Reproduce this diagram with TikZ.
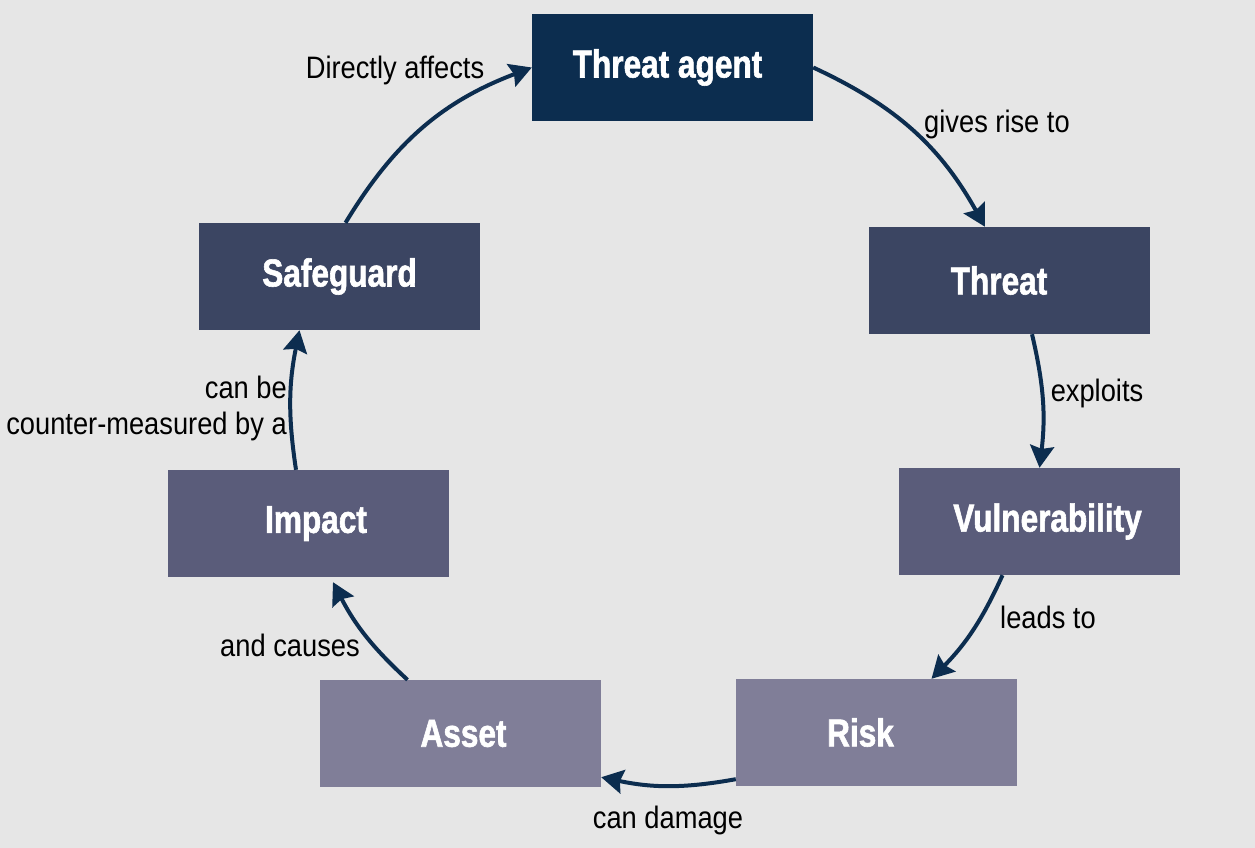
\documentclass[tikz,border=0pt]{standalone}
\usepackage{fontspec}
\usetikzlibrary{arrows.meta}
\newfontfamily\boxfont[FakeStretch=0.81,FakeBold=1.5]{Liberation Sans}
\newfontfamily\labfont[FakeStretch=0.88]{Liberation Sans}
\definecolor{bg}{HTML}{E6E6E6}
\definecolor{navy}{HTML}{0C2D4F}
\definecolor{cA}{HTML}{3B4562}
\definecolor{cB}{HTML}{5A5C7A}
\definecolor{cC}{HTML}{807E98}
\tikzset{
  box/.style={minimum width=281pt,minimum height=107pt,inner sep=0pt,
    text=white,font=\boxfont\bfseries\fontsize{39}{44}\selectfont},
  lab/.style={inner sep=0pt,text=black,font=\labfont\fontsize{31}{36}\selectfont},
  conn/.style={draw=navy,line width=4pt,
    -{Stealth[length=22pt,width=24pt,inset=3pt]}}
}
\begin{document}
\begin{tikzpicture}[x=1pt,y=-1pt]
\fill[bg] (0,0) rectangle (1255,848);
\useasboundingbox (0,0) rectangle (1255,848);
\node[box,fill=navy] (ta) at (672.5,67.5) {\hspace*{-10pt}Threat agent};
\node[box,fill=cA] (th) at (1009,280.5) {\hspace*{-20pt}Threat};
\node[box,fill=cB] (vul) at (1039.5,521.5) {\hspace*{16pt}Vulnerability};
\node[box,fill=cC] (risk) at (876.5,732.5) {\hspace*{-32pt}Risk};
\node[box,fill=cC] (asset) at (460.5,733.5) {\hspace*{6pt}Asset};
\node[box,fill=cB] (imp) at (308,523.5) {\hspace*{16pt}Impact};
\node[box,fill=cA] (safe) at (339.5,276.5) {Safeguard};

\draw[conn] (ta.east) to[bend left=18] ([xshift=-24pt]th.north);
\draw[conn] ([xshift=23pt]th.south) to[bend left=10] (vul.north);
\draw[conn] ([xshift=-37pt]vul.south) to[bend left=10] ([xshift=55pt]risk.north);
\draw[conn] ([yshift=7pt]risk.south west) to[bend left=11] ([yshift=10pt]asset.south east);
\draw[conn] ([xshift=-53pt]asset.north) to[bend left=10] ([xshift=25pt,yshift=-5pt]imp.south);
\draw[conn] ([xshift=-12pt]imp.north) to[bend left=10] ([xshift=-40pt]safe.south);
\draw[conn] ([xshift=6pt]safe.north) to[bend left=19] (ta.west);

\node[lab] (l1) at (997,124) {gives rise to};
\node[lab] (l2) at (1097,393) {exploits};
\node[lab] (l3) at (1048,617) {leads to};
\node[lab] (l4) at (668,820) {can damage};
\node[lab] (l5) at (290,645) {and causes};
\node[lab,align=right,anchor=east] (l6) at (287,408) {can be\\counter-measured by a};
\node[lab] (l7) at (395,70) {Directly affects};
\end{tikzpicture}
\end{document}
